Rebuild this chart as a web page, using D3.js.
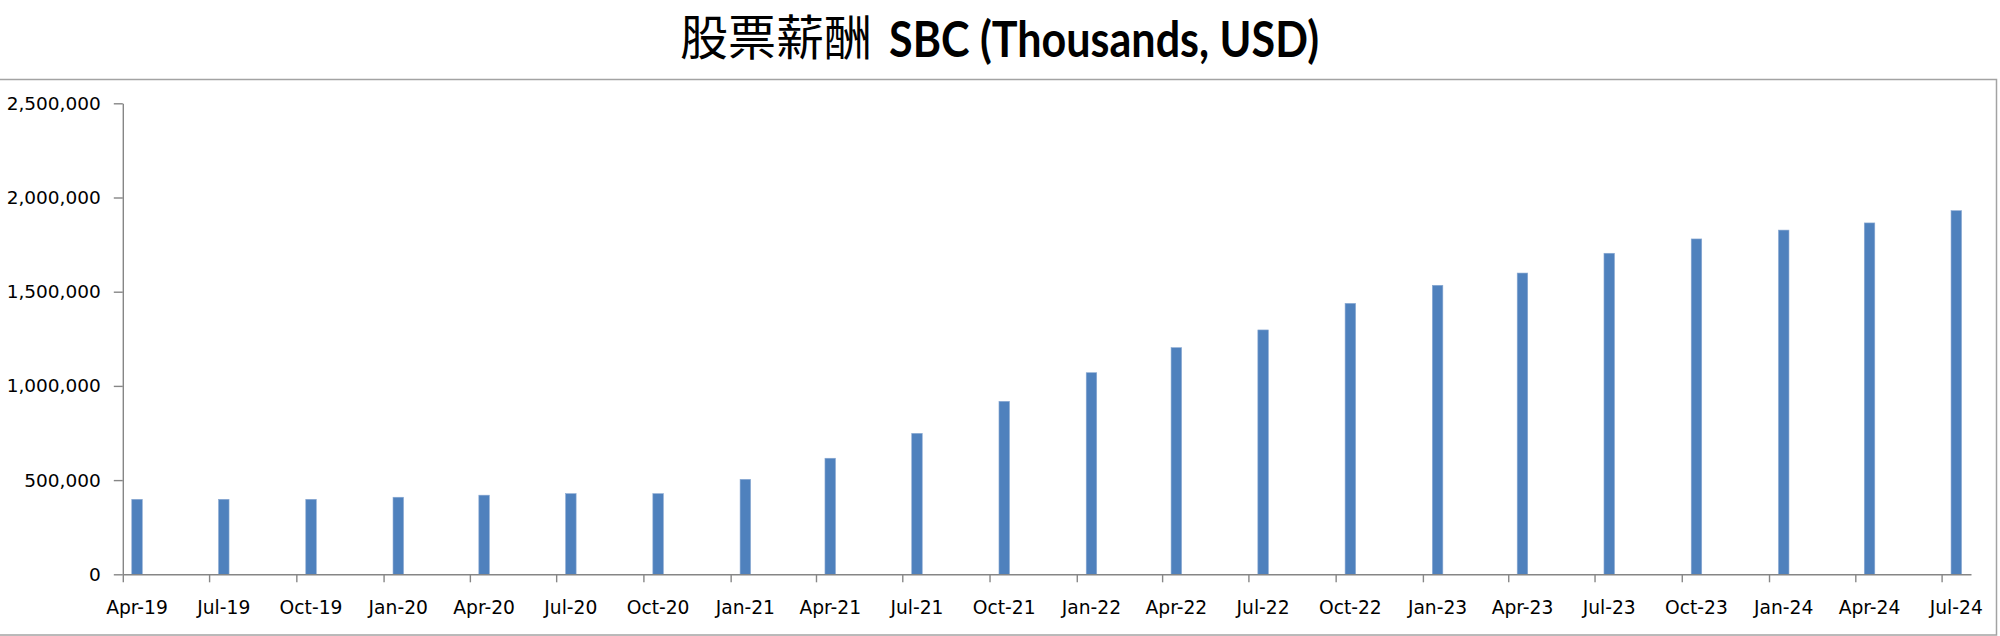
<!DOCTYPE html>
<html>
<head>
<meta charset="utf-8">
<script src="https://cdn.jsdelivr.net/npm/d3@7"></script>
<style>
  html, body { margin: 0; padding: 0; background: #ffffff; }
  svg { display: block; }
</style>
</head>
<body>
<svg id="chart" width="2000" height="636"></svg>
<script>
// ---- data ----
const titleCJK = "股票薪酬";
const titleLatin = "SBC (Thousands, USD)";
const categories = ["Apr-19","Jul-19","Oct-19","Jan-20","Apr-20","Jul-20","Oct-20","Jan-21",
  "Apr-21","Jul-21","Oct-21","Jan-22","Apr-22","Jul-22","Oct-22","Jan-23","Apr-23","Jul-23",
  "Oct-23","Jan-24","Apr-24","Jul-24"];
const sbcValues = [398000, 398000, 398000, 409000, 420000, 428000, 428000, 504000,
  616000, 748000, 918000, 1070000, 1203000, 1297000, 1438000, 1534000, 1599000, 1704000,
  1780000, 1827000, 1865000, 1930000];
const yTicks = [0, 500000, 1000000, 1500000, 2000000, 2500000];
const xDomainLabels = ["Apr-19", "Aug-24"];

// ---- setup ----
const parse = d3.timeParse("%b-%y");
const dates = categories.map(parse);
const svg = d3.select("#chart");

svg.append("rect").attr("x", 0).attr("y", 0).attr("width", 2000).attr("height", 636).attr("fill", "#fff");
// chart frame
svg.append("rect")
  .attr("x", -1).attr("y", 79.5).attr("width", 1997.5).attr("height", 555.5)
  .attr("fill", "none").attr("stroke", "#a3a3a3").attr("stroke-width", 1.5);

const x = d3.scaleTime()
  .domain(xDomainLabels.map(parse))
  .range([122.8, 1971]);
const y = d3.scaleLinear()
  .domain([0, 2500000])
  .range([574.3, 103.3]);

const slotStart = d => x(d);
const slotEnd = d => x(d3.timeMonth.offset(d, 1));
const barW = 10.5;

// bars
svg.append("g").selectAll("rect")
  .data(sbcValues)
  .join("rect")
  .attr("x", (v, i) => (slotStart(dates[i]) + slotEnd(dates[i])) / 2 - barW / 2)
  .attr("width", barW)
  .attr("y", v => y(v))
  .attr("height", v => y(0) - y(v))
  .attr("fill", "#4F81BD")
  .attr("stroke", "#8aa9d2")
  .attr("stroke-width", 0.6);

// y axis
const yAxis = svg.append("g")
  .attr("transform", `translate(${x.range()[0]},0)`)
  .call(d3.axisLeft(y).tickValues(yTicks).tickSize(9).tickSizeOuter(0).tickPadding(13)
    .tickFormat(d3.format(",")));
// x axis
const xAxis = svg.append("g")
  .attr("transform", `translate(0,${y(0)})`)
  .call(d3.axisBottom(x).tickValues(dates).tickSize(8).tickSizeOuter(0).tickFormat(""));

[yAxis, xAxis].forEach(g => {
  g.select(".domain").attr("stroke", "#868686").attr("stroke-width", 1.4);
  g.selectAll(".tick line").attr("stroke", "#868686").attr("stroke-width", 1.4);
  g.selectAll("text").attr("fill", "#000").style("font-family", "'DejaVu Sans', Verdana, sans-serif").style("font-size", "18.5px");
});

// x labels centred on each month slot
svg.append("g").selectAll("text")
  .data(categories)
  .join("text")
  .attr("x", (c, i) => (slotStart(dates[i]) + slotEnd(dates[i])) / 2)
  .attr("y", 613.5)
  .attr("text-anchor", "middle")
  .style("font-family", "'DejaVu Sans', Verdana, sans-serif")
  .style("font-size", "18.7px")
  .attr("fill", "#000")
  .text(c => c);

// title
svg.append("text")
  .attr("x", 680).attr("y", 55)
  .style("font-family", "'Noto Sans CJK TC', 'Noto Sans CJK SC', sans-serif")
  .style("font-size", "48px")
  .style("font-weight", "normal")
  .attr("fill", "#000")
  .text(titleCJK);
svg.append("text")
  .attr("x", 889).attr("y", 57)
  .attr("textLength", 430)
  .attr("lengthAdjust", "spacingAndGlyphs")
  .style("font-family", "Lato, 'Open Sans', sans-serif")
  .style("font-size", "50px")
  .style("font-weight", "bold")
  .attr("fill", "#000")
  .text(titleLatin);
</script>
</body>
</html>
